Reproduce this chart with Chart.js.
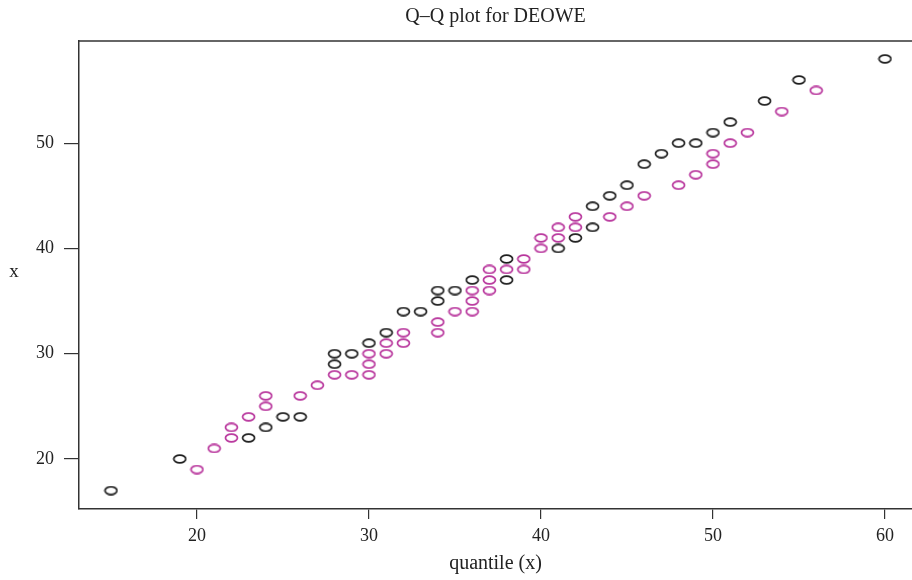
<!DOCTYPE html>
<html>
<head>
<meta charset="utf-8">
<script src="https://cdn.jsdelivr.net/npm/chart.js@4/dist/chart.umd.min.js"></script>
<style>
  html, body { margin: 0; padding: 0; background: #fff; }
  #wrap { width: 912px; height: 580px; position: relative; }
</style>
</head>
<body>
<div id="wrap"><canvas id="qq"></canvas></div>
<script>
// black points: quantile, observed
const blackX = [15, 19, 23, 24, 25, 26, 28, 28, 29, 30, 31, 32, 33, 34, 34, 35, 36, 38, 38,
  41, 42, 43, 43, 44, 45, 46, 47, 48, 49, 50, 51, 53, 55, 60];
const blackY = [17, 20, 22, 23, 24, 24, 29, 30, 30, 31, 32, 34, 34, 35, 36, 36, 37, 37, 39,
  40, 41, 42, 44, 45, 46, 48, 49, 50, 50, 51, 52, 54, 56, 58];

// magenta points
const pinkX = [20, 21, 22, 22, 23, 24, 24, 26, 27, 28, 29, 30, 30, 30, 31, 31, 32, 32, 34, 34,
  35, 36, 36, 36, 37, 37, 37, 38, 39, 39, 40, 40, 41, 41, 42, 42, 44, 45, 46, 48, 49, 50, 50,
  51, 52, 54, 56];
const pinkY = [19, 21, 22, 23, 24, 25, 26, 26, 27, 28, 28, 28, 29, 30, 30, 31, 31, 32, 32, 33,
  34, 34, 35, 36, 36, 37, 38, 38, 38, 39, 40, 41, 41, 42, 42, 43, 43, 44, 45, 46, 47, 48, 49,
  50, 51, 53, 55];

const xTicks = [20, 30, 40, 50, 60];
const yTicks = [20, 30, 40, 50];

const FONT = '"Liberation Serif", "DejaVu Serif", serif';
const AXIS = '#333333';

function toPoints(xs, ys) {
  return xs.map((x, i) => ({ x: x, y: ys[i] }));
}

// open ellipse marker (the source plot is stretched sideways)
function ellipse(color) {
  const c = document.createElement('canvas');
  c.width = 15;
  c.height = 10;
  const g = c.getContext('2d');
  g.strokeStyle = color;
  g.lineWidth = 1.7;
  g.beginPath();
  g.ellipse(7.5, 5, 6, 3.8, 0, 0, Math.PI * 2);
  g.stroke();
  return c;
}

const labelsPlugin = {
  id: 'labels',
  afterDraw(chart) {
    const { ctx, chartArea } = chart;
    ctx.save();
    // top border of the box
    ctx.strokeStyle = AXIS;
    ctx.lineWidth = 1.5;
    ctx.beginPath();
    ctx.moveTo(chartArea.left, chartArea.top);
    ctx.lineTo(chartArea.right, chartArea.top);
    ctx.stroke();

    ctx.fillStyle = '#222';
    ctx.textAlign = 'center';
    ctx.textBaseline = 'middle';
    ctx.font = '20px ' + FONT;
    ctx.fillText('Q\u2013Q plot for DEOWE', (chartArea.left + chartArea.right) / 2, 17);
    ctx.font = '19px ' + FONT;
    ctx.fillText('x', 14, 272);
    ctx.restore();
  }
};

new Chart(document.getElementById('qq'), {
  type: 'scatter',
  data: {
    datasets: [
      {
        label: 'black',
        data: toPoints(blackX, blackY),
        pointStyle: ellipse('#1e1e1e'),
      },
      {
        label: 'magenta',
        data: toPoints(pinkX, pinkY),
        pointStyle: ellipse('#b8359c'),
      },
    ],
  },
  options: {
    responsive: true,
    maintainAspectRatio: false,
    animation: false,
    layout: { autoPadding: false, padding: { top: 41, left: 0, right: 0, bottom: 0 } },
    plugins: {
      legend: { display: false },
      tooltip: { enabled: false },
    },
    scales: {
      x: {
        type: 'linear',
        min: 13.14,
        max: 61.57,
        afterFit: (scale) => {
          scale.height = 71;
          scale.paddingLeft = 0;
          scale.paddingRight = 0;
        },
        afterBuildTicks: (scale) => { scale.ticks = xTicks.map((v) => ({ value: v })); },
        ticks: {
          includeBounds: false,
          color: '#222',
          font: { family: FONT, size: 18 },
          padding: 6,
          maxRotation: 0,
        },
        grid: { drawOnChartArea: false, tickLength: 10, color: AXIS, lineWidth: 1.2 },
        border: { color: AXIS, width: 1.5 },
        title: {
          display: true,
          text: 'quantile (x)',
          color: '#222',
          font: { family: FONT, size: 20 },
          padding: { top: 2 },
        },
      },
      y: {
        type: 'linear',
        min: 15.25,
        max: 59.7,
        afterFit: (scale) => {
          scale.width = 79;
          scale.paddingTop = 0;
          scale.paddingBottom = 0;
        },
        afterBuildTicks: (scale) => { scale.ticks = yTicks.map((v) => ({ value: v })); },
        ticks: {
          includeBounds: false,
          color: '#222',
          font: { family: FONT, size: 18 },
          padding: 10,
        },
        grid: { drawOnChartArea: false, tickLength: 15, color: AXIS, lineWidth: 1.2 },
        border: { color: AXIS, width: 1.5 },
      },
    },
  },
  plugins: [labelsPlugin],
});
</script>
</body>
</html>
